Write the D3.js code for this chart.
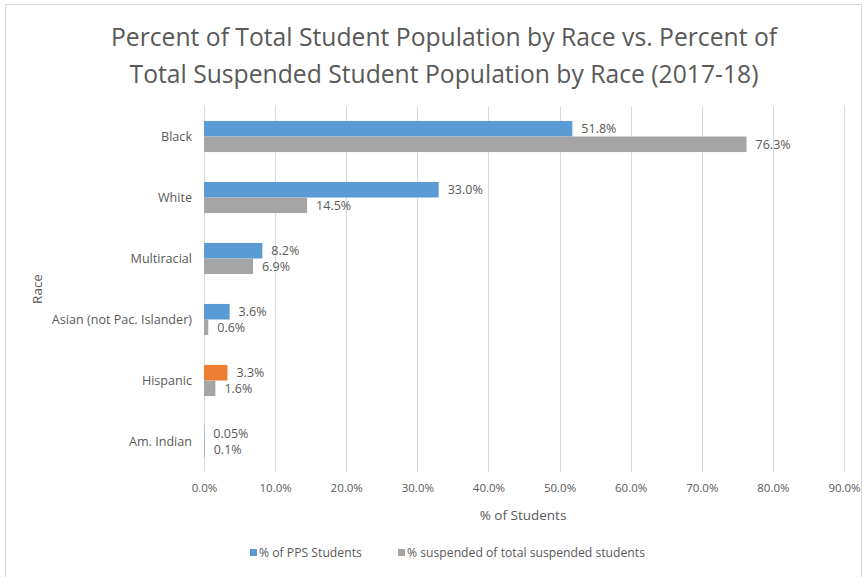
<!DOCTYPE html>
<html>
<head>
<meta charset="utf-8">
<script src="https://cdn.jsdelivr.net/npm/d3@7"></script>
<style>
  body { margin: 0; background: #fff; }
  text { font-family: "Open Sans", "Liberation Sans", sans-serif; fill: #595959; }
</style>
</head>
<body>
<div id="chart"></div>
<script>
// Chart data
const races = ["Black", "White", "Multiracial", "Asian (not Pac. Islander)", "Hispanic", "Am. Indian"];
const pctStudents = [51.8, 33.0, 8.2, 3.6, 3.3, 0.05];
const pctSuspended = [76.3, 14.5, 6.9, 0.6, 1.6, 0.1];
const studentLabels = ["51.8%", "33.0%", "8.2%", "3.6%", "3.3%", "0.05%"];
const suspendedLabels = ["76.3%", "14.5%", "6.9%", "0.6%", "1.6%", "0.1%"];
const seriesNames = ["% of PPS Students", "% suspended of total suspended students"];
const xTicks = [0, 10, 20, 30, 40, 50, 60, 70, 80, 90];
const highlight = "Hispanic";

const W = 865, H = 577;
const margin = {top: 106, right: 21, bottom: 105, left: 204};
const width = W - margin.left - margin.right,
      height = H - margin.top - margin.bottom;

const blue = "#5b9bd5", gray = "#a5a5a5", orange = "#ed7d31";

const svgRoot = d3.select("#chart").append("svg")
    .attr("width", W)
    .attr("height", H);

// outer border
svgRoot.append("rect")
    .attr("x", 5.5).attr("y", 4.5)
    .attr("width", W - 9).attr("height", H)
    .attr("fill", "none")
    .attr("stroke", "#d9d9d9");

// Title
const title = svgRoot.append("text")
    .attr("text-anchor", "middle")
    .style("font-size", "24.7px");
title.append("tspan").attr("x", 444).attr("y", 46)
    .text("Percent of Total Student Population by Race vs. Percent of");
title.append("tspan").attr("x", 444).attr("y", 83)
    .text("Total Suspended Student Population by Race (2017-18)");

const svg = svgRoot.append("g")
    .attr("transform", `translate(${margin.left},${margin.top})`);

const x = d3.scaleLinear().domain([0, 90]).range([0, width]);
const y = d3.scaleBand().domain(races).range([0, height]).paddingInner(0.49).paddingOuter(0.245);
const sub = d3.scaleBand().domain([0, 1]).range([0, y.bandwidth()]);

// gridlines
svg.append("g")
    .selectAll("line")
    .data(xTicks)
    .join("line")
    .attr("x1", d => Math.round(x(d)) + 0.5)
    .attr("x2", d => Math.round(x(d)) + 0.5)
    .attr("y1", 0)
    .attr("y2", height)
    .attr("stroke", "#d9d9d9");

// X axis labels
const xAxis = svg.append("g")
    .attr("transform", `translate(0,${height})`)
    .call(d3.axisBottom(x).tickValues(xTicks).tickFormat(d => d.toFixed(1) + "%").tickSize(0).tickPadding(12));
xAxis.select(".domain").remove();
xAxis.selectAll("text").style("font-size", "11.5px").attr("fill", "#595959");

// Y axis labels
const yAxis = svg.append("g")
    .call(d3.axisLeft(y).tickSize(0).tickPadding(12));
yAxis.select(".domain").remove();
yAxis.selectAll("text").style("font-size", "12.6px").attr("fill", "#595959");

// rows
const rows = races.map((r, i) => ({
    race: r,
    vals: [
        {k: 0, v: pctStudents[i], label: studentLabels[i]},
        {k: 1, v: pctSuspended[i], label: suspendedLabels[i]}
    ]
}));

const g = svg.selectAll(".row")
    .data(rows)
    .join("g")
    .attr("class", "row")
    .attr("transform", d => `translate(0,${y(d.race)})`);

g.selectAll("rect")
    .data(d => d.vals.map(v => ({...v, race: d.race})))
    .join("rect")
    .attr("x", x(0))
    .attr("y", d => sub(d.k))
    .attr("width", d => x(d.v) - x(0))
    .attr("height", sub.bandwidth())
    .attr("fill", d => d.k === 1 ? gray : (d.race === highlight ? orange : blue));

g.selectAll("text.lbl")
    .data(d => d.vals)
    .join("text")
    .attr("class", "lbl")
    .attr("x", d => x(d.v) + 9)
    .attr("y", d => sub(d.k) + sub.bandwidth() / 2)
    .attr("dy", "0.35em")
    .style("font-size", "12.5px")
    .text(d => d.label);

// axis titles
svgRoot.append("text")
    .attr("transform", `translate(42,${margin.top + height / 2}) rotate(-90)`)
    .attr("text-anchor", "middle")
    .style("font-size", "13.5px")
    .text("Race");

svgRoot.append("text")
    .attr("x", 523).attr("y", 520)
    .attr("text-anchor", "middle")
    .style("font-size", "13.5px")
    .text("% of Students");

// legend
const legend = svgRoot.append("g").attr("transform", "translate(250,553)");
const legX = [0, 148];
seriesNames.forEach((n, i) => {
    legend.append("rect")
        .attr("x", legX[i]).attr("y", -4)
        .attr("width", 7).attr("height", 7)
        .attr("fill", i === 0 ? blue : gray);
    legend.append("text")
        .attr("x", legX[i] + 9).attr("y", 0)
        .attr("dy", "0.35em")
        .style("font-size", "12.2px")
        .text(n);
});
</script>
</body>
</html>
